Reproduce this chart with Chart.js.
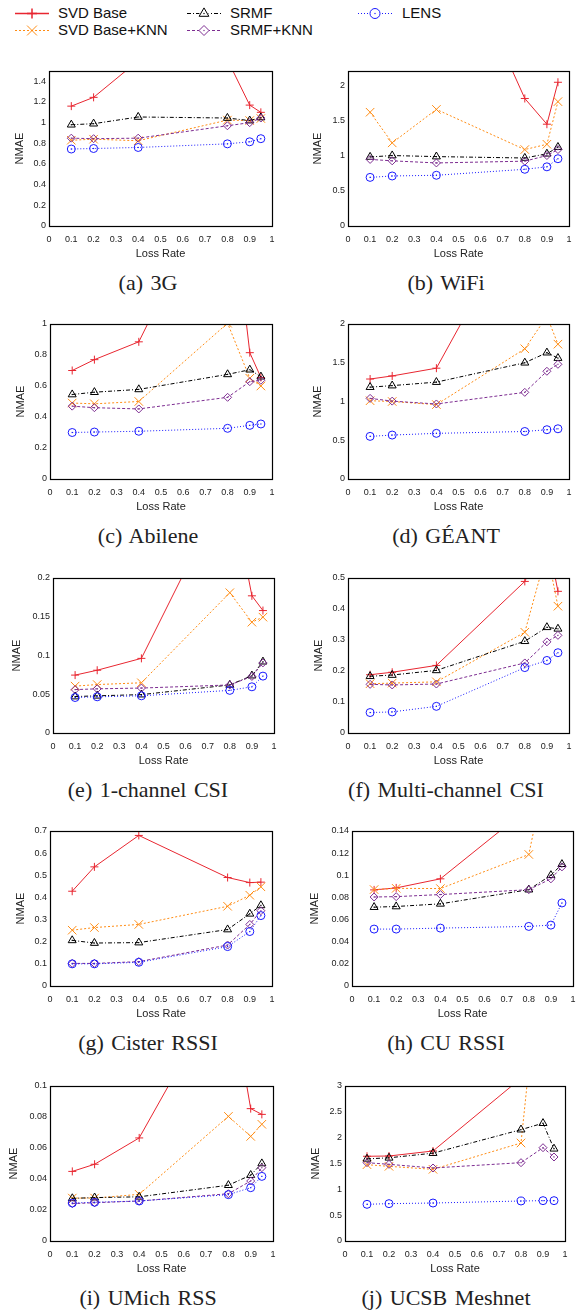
<!DOCTYPE html>
<html>
<head>
<meta charset="utf-8">
<script src="https://cdn.jsdelivr.net/npm/chart.js"></script>
<style>
  body { margin:0; background:#fff; width:585px; height:1311px; position:relative; overflow:hidden; font-family:"Liberation Sans", Arial, sans-serif; }
  .panel { position:absolute; }
  .caption { position:absolute; width:240px; margin-left:-120px; font-family:"Liberation Serif","Times New Roman",serif; font-size:22px; word-spacing:2px; color:#222; text-align:center; white-space:nowrap; line-height:22px; }
  .legend-item { position:absolute; height:16px; }
  .legend-item canvas { position:absolute; left:0; top:0; }
  .legend-item span { position:absolute; top:-1px; font-size:15px; line-height:18px; color:#111; white-space:nowrap; }
</style>
</head>
<body>
<div id="legend"></div>
<div id="panels"></div>
<script>
var lossRates = [0.1, 0.2, 0.4, 0.8, 0.9, 0.95];
var xTicks = [0, 0.1, 0.2, 0.3, 0.4, 0.5, 0.6, 0.7, 0.8, 0.9, 1];
var seriesNames = ['SVD Base', 'SVD Base+KNN', 'SRMF', 'SRMF+KNN', 'LENS'];
var captions = ['(a) 3G', '(b) WiFi', '(c) Abilene', '(d) GÉANT', '(e) 1-channel CSI',
                '(f) Multi-channel CSI', '(g) Cister RSSI', '(h) CU RSSI', '(i) UMich RSS', '(j) UCSB Meshnet'];
var yMaxes = [1.5, 2.2, 1, 2, 0.2, 0.5, 0.7, 0.14, 0.1, 3];
var yTickLists = [
  [0, 0.2, 0.4, 0.6, 0.8, 1, 1.2, 1.4],
  [0, 0.5, 1, 1.5, 2],
  [0, 0.2, 0.4, 0.6, 0.8, 1],
  [0, 0.5, 1, 1.5, 2],
  [0, 0.05, 0.1, 0.15, 0.2],
  [0, 0.1, 0.2, 0.3, 0.4, 0.5],
  [0, 0.1, 0.2, 0.3, 0.4, 0.5, 0.6, 0.7],
  [0, 0.02, 0.04, 0.06, 0.08, 0.1, 0.12, 0.14],
  [0, 0.02, 0.04, 0.06, 0.08, 0.1],
  [0, 0.5, 1, 1.5, 2, 2.5, 3]
];

// rows: SVD Base, SVD Base+KNN, SRMF, SRMF+KNN, LENS
var nmae3G = [
  [1.16, 1.245, 1.6, 1.61, 1.17, 1.10],
  [0.83, 0.84, 0.825, 1.025, 1.02, 1.04],
  [0.98, 0.99, 1.055, 1.045, 1.02, 1.05],
  [0.85, 0.845, 0.85, 0.97, 1.0, 1.045],
  [0.745, 0.75, 0.76, 0.795, 0.815, 0.845]
];
var nmaeWiFi = [
  [3.6, 4.0, 4.6, 1.81, 1.445, 2.04],
  [1.615, 1.18, 1.655, 1.085, 1.16, 1.765],
  [0.98, 1.0, 0.985, 0.965, 1.025, 1.12],
  [0.945, 0.925, 0.895, 0.92, 1.0, 1.085],
  [0.69, 0.71, 0.72, 0.805, 0.84, 0.955]
];
var nmaeAbilene = [
  [0.70, 0.77, 0.885, 2.04, 0.815, 0.655],
  [0.49, 0.485, 0.5, 1.005, 0.65, 0.60],
  [0.545, 0.56, 0.578, 0.675, 0.705, 0.66],
  [0.47, 0.46, 0.452, 0.527, 0.628, 0.637],
  [0.30, 0.303, 0.308, 0.327, 0.346, 0.355]
];
var nmaeGeant = [
  [1.29, 1.33, 1.43, 3.5, 3.2, 2.9],
  [1.01, 1.0, 0.96, 1.68, 2.1, 1.74],
  [1.185, 1.205, 1.25, 1.5, 1.63, 1.56],
  [1.04, 1.005, 0.968, 1.118, 1.39, 1.48],
  [0.55, 0.567, 0.589, 0.613, 0.636, 0.648]
];
var nmaeCsi1 = [
  [0.0747, 0.081, 0.0963, 0.325, 0.177, 0.158],
  [0.0605, 0.0625, 0.0648, 0.181, 0.143, 0.1495],
  [0.047, 0.048, 0.0495, 0.062, 0.074, 0.092],
  [0.056, 0.057, 0.058, 0.062, 0.073, 0.0905],
  [0.0458, 0.0467, 0.048, 0.055, 0.0596, 0.0734]
];
var nmaeCsiMulti = [
  [0.188, 0.196, 0.218, 0.489, 0.637, 0.457],
  [0.159, 0.161, 0.165, 0.325, 0.585, 0.409],
  [0.183, 0.187, 0.202, 0.296, 0.341, 0.336],
  [0.157, 0.155, 0.158, 0.226, 0.294, 0.315],
  [0.066, 0.068, 0.086, 0.211, 0.234, 0.259]
];
var nmaeCister = [
  [0.428, 0.538, 0.68, 0.49, 0.467, 0.469],
  [0.252, 0.264, 0.278, 0.36, 0.41, 0.448],
  [0.206, 0.194, 0.196, 0.255, 0.326, 0.364],
  [0.102, 0.102, 0.11, 0.185, 0.278, 0.34],
  [0.1, 0.1, 0.107, 0.178, 0.246, 0.318]
];
var nmaeCu = [
  [0.0868, 0.0886, 0.0968, 0.161, 0.17, 0.18],
  [0.0871, 0.0882, 0.088, 0.1188, 0.215, 0.23],
  [0.0712, 0.0718, 0.0742, 0.087, 0.1, 0.11],
  [0.0804, 0.0807, 0.0826, 0.087, 0.0968, 0.1076],
  [0.0514, 0.0514, 0.0523, 0.0538, 0.055, 0.075]
];
var nmaeUmich = [
  [0.0449, 0.0495, 0.0665, 0.169, 0.0854, 0.0817],
  [0.0277, 0.0277, 0.0301, 0.0804, 0.0675, 0.0753],
  [0.0275, 0.028, 0.0285, 0.036, 0.0425, 0.05],
  [0.0241, 0.0247, 0.0258, 0.0305, 0.0387, 0.0473],
  [0.0245, 0.025, 0.0258, 0.0299, 0.0344, 0.0417]
];
var nmaeUcsb = [
  [1.64, 1.645, 1.742, 3.15, 3.4, 3.6],
  [1.477, 1.445, 1.387, 1.897, 6.0, 6.5],
  [1.59, 1.61, 1.70, 2.155, 2.28, 1.785],
  [1.516, 1.484, 1.413, 1.516, 1.806, 1.626],
  [0.71, 0.723, 0.735, 0.774, 0.781, 0.781]
];
var panelData = [nmae3G, nmaeWiFi, nmaeAbilene, nmaeGeant, nmaeCsi1,
                 nmaeCsiMulti, nmaeCister, nmaeCu, nmaeUmich, nmaeUcsb];

// look of each series
var seriesStyles = [
  {color:'rgb(232,38,48)',  dash:[],          point:'cross',    radius:4,   dot:false},
  {color:'rgb(255,140,20)', dash:[2,2],       point:'crossRot', radius:6,   dot:false},
  {color:'rgb(0,0,0)',      dash:[4,2,1,2],   point:'triangle', radius:4.6, dot:true},
  {color:'rgb(125,45,145)', dash:[3,2],       point:'rectRot',  radius:4,   dot:true},
  {color:'rgb(25,25,255)',  dash:[1,2],       point:'circle',   radius:4,   dot:true}
];

// page layout (plot frame in page pixels)
var rowSpans = [[71,226],[324,479],[578,733],[831,986],[1086,1241]];
var colSpans = [[49,272],[348,569],[50,272],[348,569],[53,274],[348,569],[50,272],[352,573],[50,273],[345,565]];
var titleGaps = [29, 30, 29, 30, 36.5, 29.5, 29.3, 36.7, 36, 29.3];
var captionX = [148, 446];

var frame = {
  id: 'frame',
  afterDraw: function(chart) {
    var a = chart.chartArea, ctx = chart.ctx;
    ctx.save();
    ctx.strokeStyle = '#000';
    ctx.lineWidth = 1.2;
    ctx.strokeRect(Math.round(a.left) + 0.5, Math.round(a.top) + 0.5,
                   Math.round(a.right) - Math.round(a.left), Math.round(a.bottom) - Math.round(a.top));
    ctx.restore();
  }
};

var centerDots = {
  id: 'centerDots',
  afterDatasetsDraw: function(chart) {
    var ctx = chart.ctx, a = chart.chartArea;
    ctx.save();
    ctx.beginPath();
    ctx.rect(a.left, a.top, a.right - a.left, a.bottom - a.top);
    ctx.clip();
    chart.data.datasets.forEach(function(ds, i) {
      if (!ds.centerDot) return;
      ctx.fillStyle = ds.borderColor;
      chart.getDatasetMeta(i).data.forEach(function(pt) {
        ctx.fillRect(pt.x - 0.6, pt.y - 0.6, 1.2, 1.2);
      });
    });
    ctx.restore();
  }
};

function build_panel(idx) {
  var col = idx % 2, row = Math.floor(idx / 2);
  var canvasLeft = col * 290, canvasW = col ? 295 : 290;
  var plotL = colSpans[idx][0], plotR = colSpans[idx][1];
  var plotT = rowSpans[row][0], plotB = rowSpans[row][1];
  var padTop = 12, axisH = 40;
  var canvasTop = plotT - padTop, canvasH = plotB - plotT + padTop + axisH;

  var holder = document.createElement('div');
  holder.className = 'panel';
  holder.style.left = canvasLeft + 'px';
  holder.style.top = canvasTop + 'px';
  var cv = document.createElement('canvas');
  cv.width = canvasW; cv.height = canvasH;
  cv.style.width = canvasW + 'px'; cv.style.height = canvasH + 'px';
  holder.appendChild(cv);
  document.getElementById('panels').appendChild(holder);

  var cap = document.createElement('div');
  cap.className = 'caption';
  cap.textContent = captions[idx];
  cap.style.left = captionX[col] + 'px';
  cap.style.top = (plotB + 57 - 11) + 'px';
  document.getElementById('panels').appendChild(cap);

  var yTicks = yTickLists[idx];
  var datasets = panelData[idx].map(function(values, s) {
    var st = seriesStyles[s];
    return {
      label: seriesNames[s],
      data: lossRates.map(function(x, i) { return {x: x, y: values[i]}; }),
      borderColor: st.color,
      backgroundColor: 'transparent',
      borderWidth: 1,
      borderDash: st.dash,
      pointStyle: st.point,
      pointRadius: st.radius,
      pointHoverRadius: st.radius,
      pointBorderWidth: 1,
      pointBorderColor: st.color,
      pointBackgroundColor: 'transparent',
      tension: 0,
      order: 4 - s,
      centerDot: st.dot
    };
  });

  var yTitleCenter = plotL - titleGaps[idx] - canvasLeft;

  new Chart(cv.getContext('2d'), {
    type: 'line',
    data: { datasets: datasets },
    options: {
      responsive: false,
      animation: false,
      devicePixelRatio: 1,
      layout: { padding: { top: padTop, left: 0, bottom: 0, right: canvasW - (plotR - canvasLeft) } },
      plugins: { legend: { display: false }, tooltip: { enabled: false } },
      scales: {
        x: {
          type: 'linear', min: 0, max: 1,
          grid: { display: false, drawTicks: false },
          border: { display: false },
          afterBuildTicks: function(s) { s.ticks = xTicks.map(function(v) { return {value: v}; }); },
          afterFit: function(s) { s.height = axisH; },
          ticks: { font: { size: 9, family: 'Liberation Sans' }, color: '#222', padding: 8,
                   maxRotation: 0, autoSkip: false, callback: function(v) { return String(v); } },
          title: { display: true, text: 'Loss Rate', color: '#222',
                   font: { size: 11, family: 'Liberation Sans' }, padding: { top: 0, bottom: 5 } }
        },
        y: {
          type: 'linear', min: 0, max: yMaxes[idx],
          grid: { display: false, drawTicks: false },
          border: { display: false },
          afterBuildTicks: function(s) { s.ticks = yTicks.map(function(v) { return {value: v}; }); },
          afterFit: function(s) { s.width = plotL - canvasLeft; },
          ticks: { font: { size: 9, family: 'Liberation Sans' }, color: '#222', padding: 3,
                   autoSkip: false, callback: function(v) { return String(v); } },
          title: { display: true, text: 'NMAE', color: '#222',
                   font: { size: 11, family: 'Liberation Sans' }, padding: { top: yTitleCenter - 6.6, bottom: 0 } }
        }
      }
    },
    plugins: [frame, centerDots]
  });
}

for (var p = 0; p < 10; p++) build_panel(p);

// legend across the top
var legendSpots = [[15, 13], [15, 30], [187, 13], [187, 30], [358, 13]];
seriesNames.forEach(function(name, s) {
  var st = seriesStyles[s];
  var item = document.createElement('div');
  item.className = 'legend-item';
  item.style.left = legendSpots[s][0] + 'px';
  item.style.top = (legendSpots[s][1] - 8) + 'px';
  var cv = document.createElement('canvas');
  cv.width = 36; cv.height = 16;
  item.appendChild(cv);
  var label = document.createElement('span');
  label.textContent = name;
  label.style.left = (s === 4 ? 44 : 43) + 'px';
  item.appendChild(label);
  document.getElementById('legend').appendChild(item);

  var ctx = cv.getContext('2d');
  ctx.strokeStyle = st.color;
  ctx.lineWidth = s === 0 ? 1.5 : 1;
  ctx.setLineDash(st.dash);
  ctx.beginPath(); ctx.moveTo(0, 8.5); ctx.lineTo(34, 8.5); ctx.stroke();
  ctx.setLineDash([]);
  var opts = { pointStyle: st.point, radius: st.radius + 1, rotation: 0, borderWidth: s === 0 ? 1.5 : 1.2 };
  ctx.fillStyle = '#fff';
  ctx.strokeStyle = st.color;
  if (st.point !== 'cross' && st.point !== 'crossRot') {
    ctx.fillRect(17 - opts.radius + 1, 8.5 - opts.radius + 1, 2 * opts.radius - 2, 2 * opts.radius - 2);
  }
  Chart.helpers.drawPoint(ctx, opts, 17, 8.5);
  if (st.dot) { ctx.fillStyle = st.color; ctx.fillRect(16.4, 7.9, 1.2, 1.2); }
});
</script>
</body>
</html>
